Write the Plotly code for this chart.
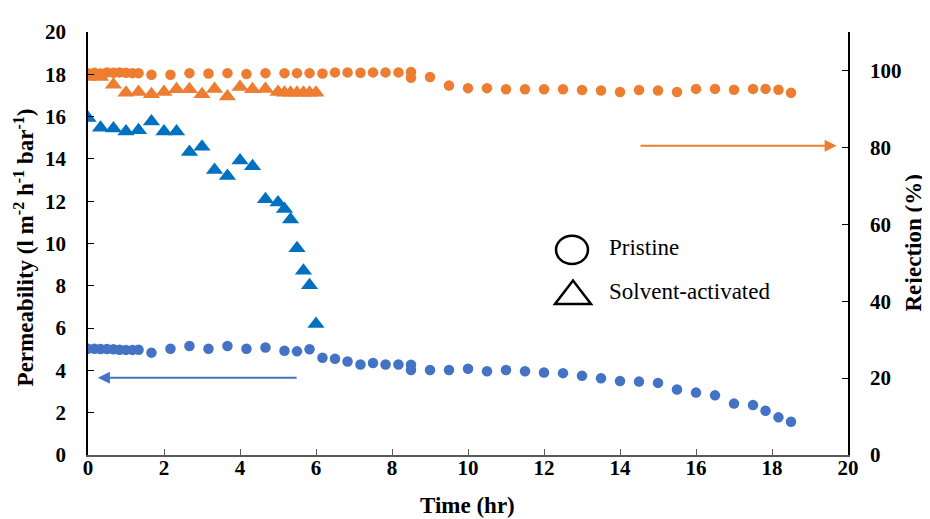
import plotly.graph_objects as go

# ---------------- data ----------------
pristine_time = [0, 0.17, 0.33, 0.5, 0.67, 0.83, 1.0, 1.17, 1.33,
                 1.67, 2.17, 2.67, 3.17, 3.67, 4.17, 4.67, 5.17, 5.5, 5.83,
                 6.17, 6.5, 6.83, 7.17, 7.5, 7.83, 8.17, 8.5, 8.5, 9.0, 9.5,
                 10, 10.5, 11, 11.5, 12, 12.5, 13, 13.5, 14, 14.5, 15, 15.5,
                 16, 16.5, 17, 17.5, 17.83, 18.17, 18.5]
pristine_perm = [5.02, 5.02, 5.01, 5.01, 5.0, 4.98, 4.97, 4.97, 4.98,
                 4.84, 5.02, 5.15, 5.02, 5.15, 5.02, 5.08, 4.93, 4.9, 5.0,
                 4.6, 4.55, 4.42, 4.28, 4.35, 4.28, 4.28, 4.27, 4.02, 4.02, 4.02,
                 4.08, 3.96, 4.02, 3.96, 3.9, 3.87, 3.75, 3.63, 3.5, 3.47, 3.41, 3.1,
                 2.95, 2.82, 2.43, 2.36, 2.09, 1.78, 1.57]
pristine_rej = [99.3, 99.4, 99.2, 99.5, 99.4, 99.5, 99.4, 99.3, 99.3,
                98.9, 98.9, 99.3, 99.2, 99.3, 99.1, 99.3, 99.3, 99.3, 99.3,
                99.2, 99.5, 99.5, 99.4, 99.5, 99.5, 99.5, 99.6, 98.1, 98.3, 96.1,
                95.4, 95.4, 95.1, 95.1, 95.1, 95.1, 94.9, 94.8, 94.4, 94.9, 94.8, 94.4,
                95.2, 95.2, 95.0, 95.2, 95.2, 95.0, 94.2]

solvent_time = [0, 0.33, 0.67, 1.0, 1.33, 1.67, 2.0, 2.33, 2.67, 3.0, 3.33,
                3.67, 4.0, 4.33, 4.67, 5.0, 5.17, 5.33, 5.5, 5.67, 5.83, 6.0]
solvent_perm = [15.93, 15.47, 15.44, 15.29, 15.35, 15.77, 15.29, 15.29, 14.33,
                14.58, 13.47, 13.19, 13.93, 13.65, 12.09, 11.94, 11.63, 11.14,
                9.78, 8.71, 8.03, 6.19]
solvent_rej = [98.3, 98.3, 96.3, 94.2, 94.4, 93.8, 94.4, 95.1, 95.1, 93.8, 95.2,
               93.2, 95.7, 95.1, 95.2, 94.4, 94.2, 94.2, 94.2, 94.2, 94.2, 94.2]

legend_labels = ["Pristine", "Solvent-activated"]
y_title = "Permeability (l m<sup>-2</sup> h<sup>-1</sup> bar<sup>-1</sup>)"
y2_title = "Rejection (%)"
x_title = "Time (hr)"

# ---------------- style ----------------
BLUE_C = "#4472C4"
BLUE_T = "#0070C0"
ORANGE = "#ED7D31"
FONT = "Liberation Serif"
W, H = 930, 519
OFF = 8  # page body margin
# target plot area in window pixels: x 88..848, y 21..455
L, R, T, B = 88 - OFF, W - 848 + OFF, 21 - OFF, H - 455 + OFF
PW, PH = W - L - R, H - T - B


def px(x):
    """window pixel x -> paper coordinate"""
    return (x - OFF - L) / PW


def py(y):
    """window pixel y -> paper coordinate"""
    return (H - B - (y - OFF)) / PH


fig = go.Figure()
fig.add_trace(go.Scatter(x=pristine_time, y=pristine_rej, mode="markers", yaxis="y2",
                         marker=dict(symbol="circle", size=10.5, color=ORANGE),
                         showlegend=False))
fig.add_trace(go.Scatter(x=solvent_time, y=solvent_rej, mode="markers", yaxis="y2",
                         marker=dict(symbol="triangle-up", size=15, color=ORANGE),
                         showlegend=False))
fig.add_trace(go.Scatter(x=pristine_time, y=pristine_perm, mode="markers",
                         marker=dict(symbol="circle", size=10.5, color=BLUE_C),
                         showlegend=False))
fig.add_trace(go.Scatter(x=solvent_time, y=solvent_perm, mode="markers",
                         marker=dict(symbol="triangle-up", size=15, color=BLUE_T),
                         showlegend=False))

tickfont = dict(family=FONT, size=21, color="black", weight="bold")

fig.update_layout(
    width=W, height=H,
    margin=dict(l=L, r=R, t=T, b=B),
    plot_bgcolor="white", paper_bgcolor="white",
    xaxis=dict(range=[0, 20], dtick=2, ticks="inside", ticklen=6, tickcolor="#595959",
               showline=True, linecolor="#595959", linewidth=1.5, showgrid=False,
               zeroline=False, tickfont=tickfont, ticklabelstandoff=-7),
    yaxis=dict(range=[0, 20], dtick=2, ticks="inside", ticklen=6, tickcolor="black",
               showline=True, linecolor="black", linewidth=1.5, showgrid=False,
               zeroline=False, tickfont=tickfont, ticklabelstandoff=16),
    yaxis2=dict(range=[0, 110], tickvals=[0, 20, 40, 60, 80, 100], ticks="inside",
                ticklen=6, tickcolor="black", overlaying="y", side="right",
                showline=True, linecolor="black", linewidth=1.5, showgrid=False,
                zeroline=False, tickfont=tickfont, ticklabelstandoff=16),
)

title_font = dict(family=FONT, size=23, color="black", weight="bold")
fig.add_annotation(text=y_title, xref="paper", yref="paper", x=px(24), y=py(242),
                   xanchor="center", yanchor="middle",
                   textangle=-90, showarrow=False, font=title_font)
fig.add_annotation(text=y2_title, xref="paper", yref="paper", x=px(913), y=py(238),
                   xanchor="center", yanchor="middle",
                   textangle=-90, showarrow=False, font=title_font)
fig.add_annotation(text=x_title, xref="paper", yref="paper", x=px(467), y=py(507),
                   xanchor="center", yanchor="middle",
                   showarrow=False, font=title_font)

# arrows pointing to the respective axes
fig.add_annotation(x=0.26, y=3.65, ax=5.53, ay=3.65, xref="x", yref="y",
                   axref="x", ayref="y", showarrow=True, arrowhead=2, arrowsize=1.2,
                   arrowwidth=2, arrowcolor=BLUE_C, text="")
fig.add_annotation(x=19.7, y=80.4, ax=14.5, ay=80.4, xref="x", yref="y2",
                   axref="x", ayref="y2", showarrow=True, arrowhead=2, arrowsize=1.2,
                   arrowwidth=2, arrowcolor=ORANGE, text="")

# custom legend
fig.add_shape(type="circle", xref="paper", yref="paper",
              x0=px(556), x1=px(588), y0=py(259), y1=py(230),
              line=dict(color="black", width=2.5), fillcolor="rgba(0,0,0,0)")
fig.add_shape(type="path", xref="paper", yref="paper",
              path=f"M {px(555)} {py(300)} L {px(591)} {py(300)} L {px(573)} {py(276)} Z",
              line=dict(color="black", width=2.5), fillcolor="rgba(0,0,0,0)")
legend_font = dict(family=FONT, size=23, color="black")
fig.add_annotation(text=legend_labels[0], xref="paper", yref="paper", x=px(607), y=py(242),
                   xanchor="left", yanchor="middle", showarrow=False, font=legend_font)
fig.add_annotation(text=legend_labels[1], xref="paper", yref="paper", x=px(607), y=py(287),
                   xanchor="left", yanchor="middle", showarrow=False, font=legend_font)

fig.write_html("out.html")
